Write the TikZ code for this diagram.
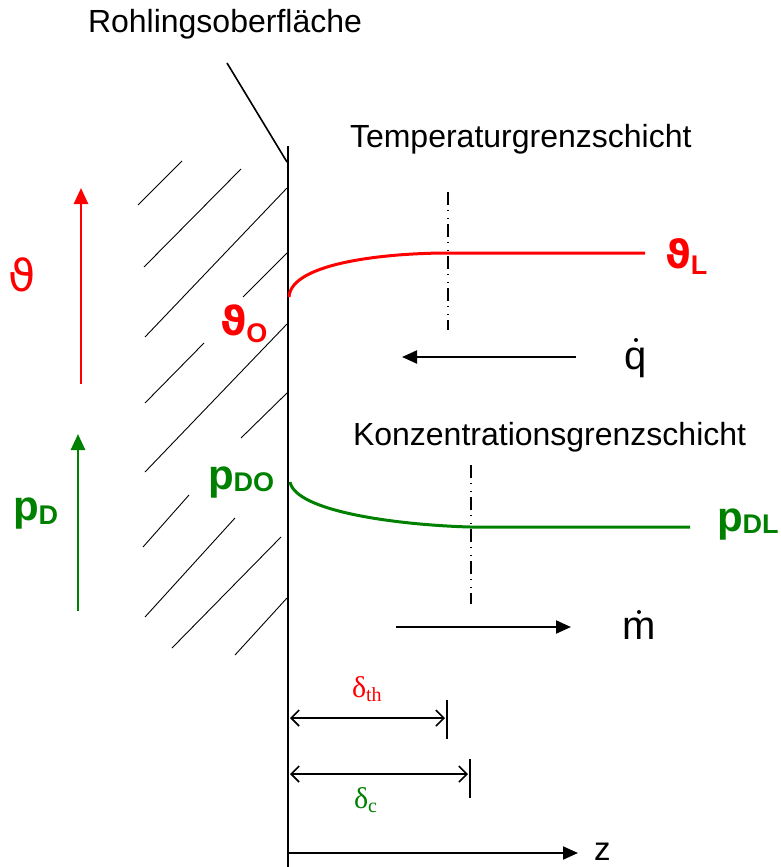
\documentclass[tikz,border=0pt]{standalone}
\usepackage{fontspec}
\setmainfont{Liberation Sans}
\newfontfamily\serifff{Liberation Serif}
\newfontfamily\symbff{DejaVu Sans}
\usetikzlibrary{arrows.meta}
\definecolor{myred}{RGB}{255,0,0}
\definecolor{mygreen}{RGB}{0,128,0}
\newcommand{\fs}[1]{\fontsize{#1}{#1}\selectfont}
\tikzset{
  hatch/.style={line width=0.9pt},
  wall/.style={line width=2.4pt},
  curve/.style={line width=3pt},
  bigarrow/.style={line width=2.6pt,-{Triangle[length=16pt,width=14pt]}},
  flowarrow/.style={line width=2pt,-{Triangle[length=15pt,width=13pt]}},
  dimarrow/.style={line width=1.6pt,{Straight Barb[length=8pt,width=16pt]}-{Straight Barb[length=8pt,width=16pt]}},
  tick/.style={line width=1.6pt},
  dashdot/.style={line width=1.2pt,dash pattern=on 13pt off 5pt on 1pt off 7pt on 1pt off 5pt},
  lbl/.style={inner sep=0pt,outer sep=0pt},
}
\begin{document}
\begin{tikzpicture}[x=1pt,y=-1pt]
\useasboundingbox (0,0) rectangle (781,867);
% hatching
\foreach \a/\b/\c/\d [count=\i] in {138/205/182/161,144/267/241/169,145/337/287/188,243/297/287/253,145/403/204/343,145/472/287/324,241/438/287/393,143/547/189/495,145/617/235/518,172/648/281/537,235/655/287/598}{
  \coordinate (h\i a) at (\a,\b);
  \coordinate (h\i b) at (\c,\d);
  \draw[hatch] (h\i a) -- (h\i b);
}
% wall
\coordinate (wtop) at (288,146);
\coordinate (wbot) at (288,867);
\draw[wall] (wtop) -- (wbot);
% leader
\node[lbl,anchor=base west,font=\fs{32}] (rohl) at (88,33) {Rohlingsoberfläche};
\coordinate (lead1) at (227,63);
\coordinate (lead2) at (287,162);
\draw[line width=1.6pt] (lead1) -- (lead2);
% temperature
\node[lbl,anchor=base west,font=\fs{32}] (temp) at (350,147) {Temperaturgrenzschicht};
\coordinate (r0) at (289,297);
\coordinate (r1) at (448,253);
\coordinate (r2) at (645,253);
\draw[curve,myred] (r0) .. controls (291,262) and (390,253) .. (r1) -- (r2);
\coordinate (dt1) at (448,192);
\coordinate (dt2) at (448,330);
\draw[dashdot] (dt1) -- (dt2);
\node[lbl,anchor=base west,myred] (thL) at (665,268) {{\symbff\bfseries\fs{39}ϑ}\raisebox{-6pt}{\bfseries\fs{27}L}};
\node[lbl,anchor=base west,myred] (thO) at (220,335) {{\symbff\bfseries\fs{40}ϑ}\raisebox{-7pt}{\bfseries\fs{27}O}};
\coordinate (q1) at (576,357);
\coordinate (q2) at (402,357);
\draw[flowarrow] (q1) -- (q2);
\node[lbl,anchor=base west,font=\fs{40}] (qdot) at (624,369) {q};
\fill (636,340) circle (2pt);
% concentration
\node[lbl,anchor=base west,font=\fs{32}] (konz) at (353,445) {Konzentrationsgrenzschicht};
\coordinate (g0) at (290,482);
\coordinate (g1) at (470,527);
\coordinate (g2) at (690,527);
\draw[curve,mygreen] (g0) .. controls (296,512) and (400,525) .. (g1) -- (g2);
\coordinate (dc1) at (471,465);
\coordinate (dc2) at (471,604);
\draw[dashdot] (dc1) -- (dc2);
\node[lbl,anchor=base west,mygreen] (pDL) at (717,531) {{\bfseries\fs{42}p}\raisebox{-2pt}{\bfseries\fs{27}DL}};
\node[lbl,anchor=base west,mygreen] (pDO) at (208,489) {{\bfseries\fs{42}p}\raisebox{-2pt}{\bfseries\fs{27}DO}};
\coordinate (m1) at (396,627);
\coordinate (m2) at (571,627);
\draw[flowarrow] (m1) -- (m2);
\node[lbl,anchor=base west,font=\fs{40}] (mdot) at (622,639) {m};
\fill (639,612) circle (2pt);
% left arrows
\coordinate (ta1) at (81,384);
\coordinate (ta2) at (81,188);
\draw[bigarrow,myred] (ta1) -- (ta2);
\node[lbl,anchor=base west,myred] (th) at (9,291) {\symbff\fs{44}ϑ};
\coordinate (pa1) at (78,611);
\coordinate (pa2) at (78,434);
\draw[bigarrow,mygreen] (pa1) -- (pa2);
\node[lbl,anchor=base west,mygreen] (pD) at (13,520) {{\bfseries\fs{42}p}\raisebox{-4pt}{\bfseries\fs{27}D}};
% dimensions
\coordinate (d1a) at (290,718);
\coordinate (d1b) at (445,718);
\draw[dimarrow] (d1a) -- (d1b);
\coordinate (t1a) at (447,700);
\coordinate (t1b) at (447,739);
\draw[tick] (t1a) -- (t1b);
\node[lbl,anchor=base west,myred] (dth) at (352,697) {{\serifff\fs{30}δ}\raisebox{-4pt}{\serifff\fs{20}th}};
\coordinate (d2a) at (290,774);
\coordinate (d2b) at (468,774);
\draw[dimarrow] (d2a) -- (d2b);
\coordinate (t2a) at (470,759);
\coordinate (t2b) at (470,798);
\draw[tick] (t2a) -- (t2b);
\node[lbl,anchor=base west,mygreen] (dc) at (354,808) {{\serifff\fs{30}δ}\raisebox{-4pt}{\serifff\fs{20}c}};
% z axis
\coordinate (z1) at (288,853);
\coordinate (z2) at (578,853);
\draw[flowarrow] (z1) -- (z2);
\node[lbl,anchor=base west,font=\fs{33}] (zl) at (594,860) {z};
\end{tikzpicture}
\end{document}
